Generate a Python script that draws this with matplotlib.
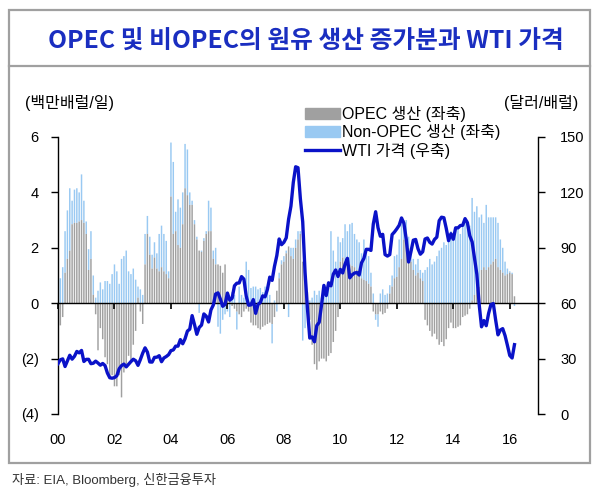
import matplotlib
matplotlib.use("Agg")
import matplotlib.pyplot as plt
import numpy as np
from matplotlib.lines import Line2D
from matplotlib.patches import Rectangle

plt.rcParams["font.family"] = ["Liberation Sans", "Noto Sans CJK KR"]

# monthly, Jan 2000 - Mar 2016 (y/y change, million b/d)
OPEC = [
    -0.95, -0.8, -0.5, 1.1, 1.6, 1.9, 2.85, 2.9, 2.9, 2.95, 3.0, 2.9,
    2.5, 1.2, 1.6, 0.3, -0.4, -1.7, -0.9, -1.3, -1.95, -2.2, -2.7, -2.6,
    -3.0, -3.0, -2.6, -3.4, -2.5, -2.2, -1.9, -2.1, -1.5, -1.0, 0.2, -0.3,
    -0.75, 1.4, 2.5, 1.75, 1.25, 1.65, 1.25, 1.15, 1.3, 1.15, 1.05, 0.9,
    3.85, 2.5, 2.6, 2.1, 2.0, 2.85, 4.15, 3.9, 3.55, 3.55, 2.85, 2.3,
    1.9, 1.85, 2.25, 2.5, 2.6, 2.6, 1.6, 1.4, 1.4, 1.35, 1.1, 1.4,
    0.3, 0.1, -0.1, -0.2, -0.3, -0.4, -0.5, -0.3, -0.2, -0.3, -0.7, -0.8,
    -0.8, -0.9, -0.95, -0.85, -0.8, -0.75, -0.7, -0.75, -0.5, 0.45, 0.9, 1.4,
    1.5, 1.8, 2.05, 1.7, 1.6, 2.0, 2.3, 2.5, 1.5, 1.3, 0.4, -0.6,
    -1.5, -2.2, -2.4, -2.1, -2.0, -2.0, -2.1, -1.9, -1.8, -1.4, -1.0, -0.5,
    1.5, 1.65, 1.4, 1.45, 1.4, 1.35, 1.3, 1.2, 1.15, 0.9, 0.85, 0.8,
    0.7, 0.6, -0.3, -0.4, -0.4, -0.3, -0.4, -0.35, -0.2, 0.35, 0.6, 0.9,
    0.95, 1.3, 1.6, 2.3, 2.4, 2.0, 1.5, 1.2, 1.0, 1.1, 0.9, 0.8,
    -0.6, -0.8, -1.0, -1.2, -1.1, -1.3, -1.5, -1.4, -1.55, -1.3, -0.9, -0.7,
    -0.9, -0.9, -0.85, -0.8, -0.5, -0.45, -0.4, -0.2, 0.1, 0.3, 0.5, 0.6,
    1.2, 1.3, 1.2, 1.3, 1.4, 1.5, 1.6, 1.3, 1.2, 1.1, 1.0, 1.05,
    1.1, 1.05, 0.25,
]
NON_OPEC = [
    0.9, 0.9, 1.3, 1.5, 1.75, 2.25, 0.85, 1.2, 1.25, 1.05, 1.65, 0.8,
    0.45, 0.75, 1.0, 0.7, 0.2, 0.45, 0.75, 0.5, 0.8, 0.8, 0.7, 1.05,
    1.4, 1.15, 0.7, 1.6, 1.7, 1.9, 1.15, 1.05, 1.25, 0.85, 0.4, 0.5,
    0.3, 1.1, 0.65, 0.65, 0.5, 0.55, 0.55, 1.35, 1.5, 1.35, 1.2, 0.25,
    1.95, 2.6, 0.7, 1.65, 1.45, 1.15, 1.6, 1.65, 0.45, 0.15, 0.15, 0.1,
    -0.35, 0.05, 0.1, 0.1, 1.1, 0.85, 0.3, 0.6, -0.85, -1.1, -0.6, -0.4,
    -0.3, -0.5, 0.4, 0.3, -0.65, 0.6, 0.3, 0.2, 1.5, 1.2, 0.55, 0.6,
    0.6, 0.5, 0.55, 0.4, 0.6, 0.45, 0.3, -0.7, 0.1, -0.3, 0.2, 0.15,
    0.2, 0.1, -0.5, 0.3, 0.4, 0.3, 0.3, 0.1, -1.35, -0.9, -0.3, 0.1,
    0.2, 0.45, 0.3, 0.45, 0.2, 0.5, 0.45, 0.6, 2.6, 1.9, 1.5, 2.4,
    0.7, 0.7, 1.45, 1.15, 1.45, 1.55, 1.2, 1.1, 1.05, 0.9, 1.45, 1.2,
    1.0, 0.5, 0.35, -0.2, -0.45, 0.35, 0.5, 0.3, 0.35, 0.3, 0.4, 0.8,
    0.8, 1.0, 1.4, 0.7, 0.6, 0.4, 0.4, 0.4, 0.4, 0.5, 0.3, 0.3,
    1.2, 1.3, 1.6, 1.4, 1.5, 1.7, 1.9, 2.0, 2.2, 2.1, 2.4, 2.6,
    2.5, 2.6, 2.7, 2.5, 2.8, 2.9, 3.0, 2.8, 3.7, 3.0, 3.0, 2.5,
    2.0, 1.6, 2.35, 1.8, 1.7, 1.6, 1.5, 1.6, 1.1, 0.9, 0.5, 0.2,
    0.05, 0.05, -0.1,
]
# WTI monthly average, $/bbl
WTI = [
    27.26, 29.37, 29.84, 25.72, 28.79, 31.82, 29.70, 31.26, 33.88, 33.11, 34.42, 28.44,
    29.59, 29.61, 27.25, 27.49, 28.63, 27.60, 26.43, 27.37, 26.20, 22.17, 19.64, 19.39,
    19.72, 20.72, 24.53, 26.18, 27.04, 25.52, 26.97, 28.39, 29.66, 28.84, 26.35, 29.46,
    32.95, 35.83, 33.51, 28.17, 28.11, 30.66, 30.76, 31.57, 28.31, 30.34, 31.11, 32.13,
    34.31, 34.69, 36.74, 36.75, 40.28, 38.03, 40.78, 44.90, 45.94, 53.28, 48.47, 43.15,
    46.84, 48.15, 54.19, 52.98, 49.83, 56.35, 59.00, 64.99, 65.59, 62.26, 58.32, 59.41,
    65.49, 61.63, 62.69, 69.44, 70.84, 70.95, 74.41, 73.04, 63.80, 58.89, 59.08, 61.96,
    54.51, 59.28, 60.44, 63.98, 63.46, 67.49, 74.12, 72.36, 79.92, 85.80, 94.77, 91.69,
    92.97, 95.39, 105.45, 112.58, 125.40, 133.88, 133.37, 116.67, 104.11, 76.61, 57.31, 41.12,
    41.71, 39.09, 47.94, 49.65, 59.03, 69.64, 64.15, 71.05, 69.41, 75.72, 77.99, 74.47,
    78.33, 76.39, 81.20, 84.29, 73.74, 75.34, 76.32, 76.60, 75.24, 81.89, 84.25, 89.15,
    89.17, 88.58, 102.86, 109.53, 100.90, 96.26, 97.30, 86.33, 85.52, 86.32, 97.16, 98.56,
    100.27, 102.20, 106.16, 103.32, 94.66, 82.30, 87.90, 94.13, 94.51, 89.49, 86.53, 87.86,
    94.76, 95.31, 92.94, 92.02, 94.51, 95.77, 104.67, 106.57, 106.29, 100.54, 93.86, 97.63,
    94.62, 100.82, 100.80, 102.07, 102.18, 105.79, 103.59, 96.54, 93.21, 84.40, 75.79, 59.29,
    47.22, 50.58, 47.82, 54.45, 59.27, 59.82, 50.90, 42.87, 45.48, 46.22, 42.44, 37.19,
    31.68, 30.32, 37.55,
]
START_YEAR = 2000
YEAR_TICKS = list(range(2000, 2017, 2))
YEAR_LABELS = ["00", "02", "04", "06", "08", "10", "12", "14", "16"]
LEFT_TICKS = [6, 4, 2, 0, -2, -4]
LEFT_LABELS = ["6", "4", "2", "0", "(2)", "(4)"]
RIGHT_TICKS = [0, 30, 60, 90, 120, 150]

opec = np.array(OPEC)
non = np.array(NON_OPEC)
wti = np.array(WTI)
x = START_YEAR + np.arange(len(opec)) / 12.0

pos_base = np.where(opec > 0, opec, 0)
neg_base = np.where(opec < 0, opec, 0)
non_bottom = np.where(non >= 0, pos_base, neg_base)

W, H = 612, 496
fig = plt.figure(figsize=(W / 100, H / 100), dpi=100)
ax = fig.add_axes([58 / W, 1 - 414 / H, 480 / W, 277 / H])
ax2 = ax.twinx()

gray = "#a0a0a0"
light_blue = "#99c9f2"
line_blue = "#0a12c8"

bw = 0.052
ax.bar(x, non, bottom=non_bottom, width=bw, color=light_blue, linewidth=0,
       snap=False)
ax.bar(x, opec, width=bw, color=gray, linewidth=0, snap=False)
ax2.plot(x, wti, color=line_blue, lw=2.4, solid_joinstyle="round")

ax.set_xlim(2000, 2017)
ax.set_ylim(-4, 6)
ax2.set_ylim(0, 150)

for s in ["top", "right"]:
    ax.spines[s].set_visible(False)
ax.spines["bottom"].set_position(("data", 0))
ax.spines["bottom"].set_linewidth(1.0)
ax.spines["left"].set_linewidth(1.0)
for s in ["top", "left", "bottom"]:
    ax2.spines[s].set_visible(False)
ax2.spines["right"].set_linewidth(1.0)

ax.set_xticks(YEAR_TICKS)
ax.tick_params(axis="x", direction="out", length=4, width=1.2, labelbottom=False)
ax.set_yticks(LEFT_TICKS)
ax.set_yticklabels(LEFT_LABELS)
ax.tick_params(axis="y", direction="out", length=5, width=1, pad=9,
               labelsize=10.5)
ax2.set_yticks(RIGHT_TICKS)
ax2.tick_params(axis="y", direction="out", length=5, width=1, pad=11,
                labelsize=10.5)

for yr, lab in zip(YEAR_TICKS, YEAR_LABELS):
    ax.text(yr, -0.095, lab, transform=ax.get_xaxis_transform(),
            ha="center", va="center", fontsize=10.5)

fig.text(25 / W, 1 - 103 / H, "(백만배럴/일)", ha="left", va="center",
         fontsize=11.5)
fig.text(578 / W, 1 - 103 / H, "(달러/배럴)", ha="right", va="center",
         fontsize=11.5)

handles = [
    Rectangle((0, 0), 1, 1, color=gray),
    Rectangle((0, 0), 1, 1, color=light_blue),
    Line2D([], [], color=line_blue, lw=2.4),
]
labels = ["OPEC 생산 (좌축)", "Non-OPEC 생산 (좌축)", "WTI 가격 (우축)"]
fig.legend(handles, labels, loc="upper left",
           bbox_to_anchor=(305 / W, 1 - 106 / H), frameon=False,
           fontsize=11.5, handlelength=2.2, handleheight=0.7,
           handletextpad=0.1, labelspacing=0.15, borderpad=0,
           borderaxespad=0)

fig.text(0.5, 1 - 41 / H, "OPEC 및 비OPEC의 원유 생산 증가분과 WTI 가격",
         ha="center", va="center", fontsize=17.8, fontweight="bold",
         color="#1a2ec0", family=["Noto Sans CJK KR"])

frame_c = "#a0a0a0"
fig.patches.append(Rectangle((9 / W, 1 - 463 / H), 581 / W, 453 / H,
                             transform=fig.transFigure, fill=False,
                             edgecolor=frame_c, lw=1.6))
fig.lines.append(Line2D([9 / W, 590 / W], [1 - 66 / H, 1 - 66 / H],
                        transform=fig.transFigure, color=frame_c, lw=1.6))

fig.text(12 / W, 1 - 480 / H, "자료: EIA, Bloomberg, 신한금융투자",
         ha="left", va="center", fontsize=9.5, color="#333333")

fig.savefig("out.png", dpi=100)
